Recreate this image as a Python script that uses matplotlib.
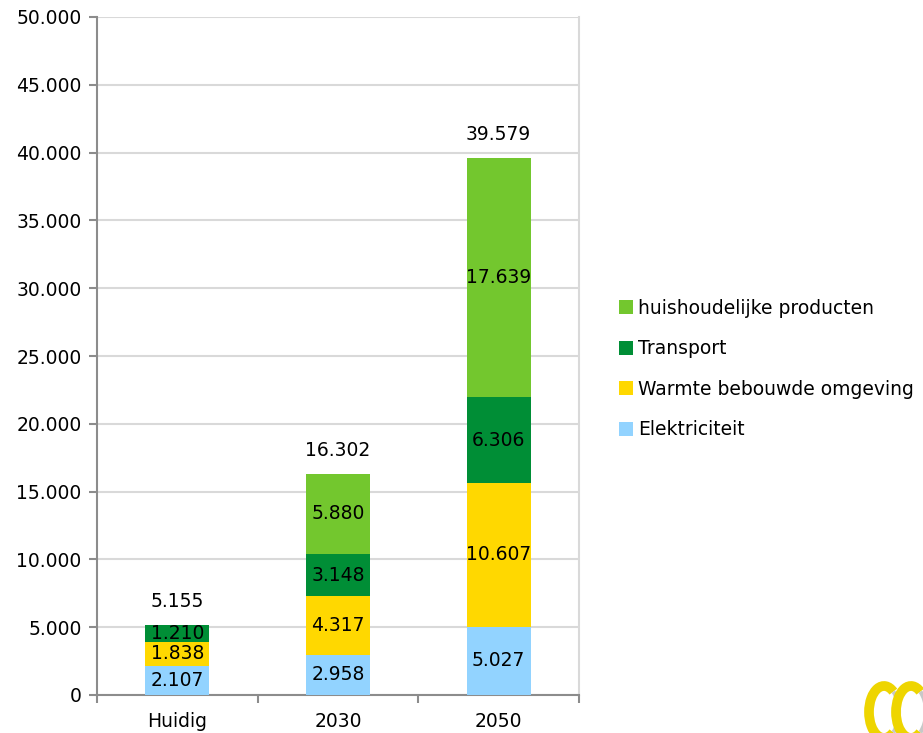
import matplotlib
matplotlib.use("Agg")
import matplotlib.pyplot as plt
from matplotlib.patches import Arc, Patch
from matplotlib.ticker import FuncFormatter, FixedLocator

categories = ["Huidig", "2030", "2050"]
elektriciteit = [2107, 2958, 5027]
warmte = [1838, 4317, 10607]
transport = [1210, 3148, 6306]
huishoudelijk = [0, 5880, 17639]
totals = [5155, 16302, 39579]

series = [
    ("Elektriciteit", elektriciteit, "#92D3FF"),
    ("Warmte bebouwde omgeving", warmte, "#FFD800"),
    ("Transport", transport, "#008E36"),
    ("huishoudelijke producten", huishoudelijk, "#73C72E"),
]

plt.rcParams["font.family"] = ["DejaVu Sans"]
FS = 13.5


def dotted(v):
    return f"{int(v):,}".replace(",", ".")


fig = plt.figure(figsize=(9.23, 7.33), dpi=100)
ax = fig.add_axes([97 / 923, 38 / 733, (579 - 97) / 923, (695 - 17) / 733])

x = list(range(len(categories)))
bottoms = [0] * len(categories)
for name, vals, color in series:
    ax.bar(x, vals, bottom=bottoms, width=0.4, color=color, zorder=3)
    for xi, b, v in zip(x, bottoms, vals):
        if v > 0:
            ax.text(xi, b + v / 2, dotted(v), ha="center", va="center",
                    fontsize=FS, color="black", zorder=4)
    bottoms = [b + v for b, v in zip(bottoms, vals)]

for xi, t in zip(x, totals):
    ax.annotate(dotted(t), xy=(xi, t), xytext=(0, 17),
                textcoords="offset points", ha="center", va="center",
                fontsize=FS, color="black")

ax.set_xlim(-0.5, 2.5)
ax.set_ylim(0, 50000)
ax.set_yticks(range(0, 50001, 5000))
ax.yaxis.set_major_formatter(FuncFormatter(lambda v, p: dotted(v)))
ax.set_xticks(x)
ax.set_xticklabels(categories)
ax.xaxis.set_minor_locator(FixedLocator([-0.5, 0.5, 1.5, 2.5]))
ax.tick_params(axis="x", which="major", length=0, pad=12, labelsize=FS)
ax.tick_params(axis="x", which="minor", length=6, width=1.5, color="#8C8C8C")
ax.tick_params(axis="y", length=6, width=1.5, color="#8C8C8C", labelsize=FS, pad=5)

ax.grid(axis="y", color="#D9D9D9", linewidth=1.5, zorder=0)
ax.set_axisbelow(True)
for side in ("left", "bottom"):
    ax.spines[side].set_color("#8C8C8C")
    ax.spines[side].set_linewidth(1.5)
ax.spines["right"].set_color("#D9D9D9")
ax.spines["right"].set_linewidth(1.5)
ax.spines["top"].set_visible(False)

handles = [Patch(facecolor=c, label=n) for n, _, c in reversed(series)]
fig.legend(handles=handles, loc="center left", bbox_to_anchor=(611 / 923, 1 - 369 / 733),
           frameon=False, fontsize=FS, handlelength=0.75, handleheight=0.75,
           handletextpad=0.3, labelspacing=1.15, borderaxespad=0)

# corner emblem: two open rings
for cx in (884, 911):
    fig.add_artist(Arc((cx / 923, 1 - 712 / 733), 30 / 923, 52 / 733,
                       theta1=70, theta2=290, transform=fig.transFigure,
                       edgecolor="#EED500", linewidth=7))
    fig.add_artist(Arc((cx / 923, 1 - 712 / 733), 30 / 923, 52 / 733,
                       theta1=-70, theta2=70, transform=fig.transFigure,
                       edgecolor="#C8C8C8", linewidth=3))

fig.savefig("out.png", dpi=100)
